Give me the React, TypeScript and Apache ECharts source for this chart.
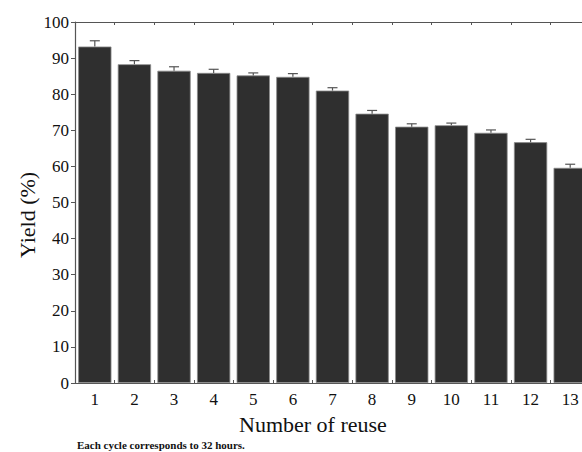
import React, { useEffect, useRef } from "react";
import * as echarts from "echarts";

const categories = ["1", "2", "3", "4", "5", "6", "7", "8", "9", "10", "11", "12", "13"];
const yieldValues = [93.2, 88.3, 86.5, 85.9, 85.2, 84.8, 81.0, 74.6, 71.0, 71.4, 69.3, 66.7, 59.6];
const errorValues = [1.6, 1.0, 1.1, 1.0, 0.7, 0.9, 0.8, 0.9, 0.8, 0.6, 0.8, 0.8, 1.0];
const yTicks = { min: 0, max: 100, interval: 10 };

const FONT = "Liberation Serif";

export default function App() {
  const ref = useRef<HTMLDivElement>(null);
  useEffect(() => {
    if (!ref.current) return;
    const chart = echarts.init(ref.current, undefined, { renderer: "svg" });
    const errData = categories.map((c, i) => [i, yieldValues[i], errorValues[i]]);
    chart.setOption({
      animation: false,
      backgroundColor: "#ffffff",
      textStyle: { fontFamily: FONT },
      grid: { left: 75, right: 10, top: 22, bottom: 69 },
      xAxis: [
        {
          type: "category",
          data: categories,
          position: "bottom",
          axisLine: { show: true, lineStyle: { color: "#555", width: 1.2 } },
          axisTick: { show: true, inside: true, length: 3, alignWithLabel: false, lineStyle: { color: "#555" } },
          axisLabel: { color: "#111", fontFamily: FONT, fontSize: 17, margin: 8 },
          splitLine: { show: false },
        },
        {
          type: "category",
          data: categories,
          position: "top",
          axisLine: { show: true, lineStyle: { color: "#555", width: 1.2 } },
          axisTick: { show: true, inside: true, length: 3, alignWithLabel: false, lineStyle: { color: "#555" } },
          axisLabel: { show: false },
          splitLine: { show: false },
        },
      ],
      yAxis: {
        type: "value",
        min: yTicks.min,
        max: yTicks.max,
        interval: yTicks.interval,
        axisLine: { show: true, lineStyle: { color: "#555", width: 1.2 } },
        axisTick: { show: true, inside: false, length: 4, lineStyle: { color: "#555" } },
        axisLabel: { color: "#111", fontFamily: FONT, fontSize: 17, margin: 6 },
        splitLine: { show: false },
      },
      series: [
        {
          type: "bar",
          data: yieldValues,
          xAxisIndex: 0,
          barCategoryGap: "16%",
          itemStyle: { color: "#2f2f2f", borderColor: "#8a8a8a", borderWidth: 0.8 },
          z: 2,
        },
        {
          type: "custom",
          xAxisIndex: 0,
          data: errData,
          z: 3,
          renderItem: (params: any, api: any) => {
            const x = api.value(0);
            const v = api.value(1);
            const e = api.value(2);
            const base = api.coord([x, v]);
            const top = api.coord([x, v + e]);
            const half = 5;
            const style = { stroke: "#555", lineWidth: 1.2 };
            return {
              type: "group",
              children: [
                { type: "line", shape: { x1: base[0], y1: base[1], x2: top[0], y2: top[1] }, style },
                { type: "line", shape: { x1: top[0] - half, y1: top[1], x2: top[0] + half, y2: top[1] }, style },
              ],
            };
          },
        },
      ],
      graphic: [
        {
          type: "text",
          left: 239,
          top: 413,
          style: { text: "Number of reuse", font: `22px ${FONT}`, fill: "#111" },
        },
        {
          type: "text",
          x: 16,
          y: 258,
          rotation: Math.PI / 2,
          style: { text: "Yield (%)", font: `22px ${FONT}`, fill: "#111" },
        },
        {
          type: "text",
          left: 77,
          top: 439,
          style: { text: "Each cycle corresponds to 32 hours.", font: `bold 11px ${FONT}`, fill: "#111" },
        },
      ],
    });
    return () => chart.dispose();
  }, []);
  return <div ref={ref} style={{ position: "fixed", left: 0, top: 0, width: 600, height: 452 }} />;
}
